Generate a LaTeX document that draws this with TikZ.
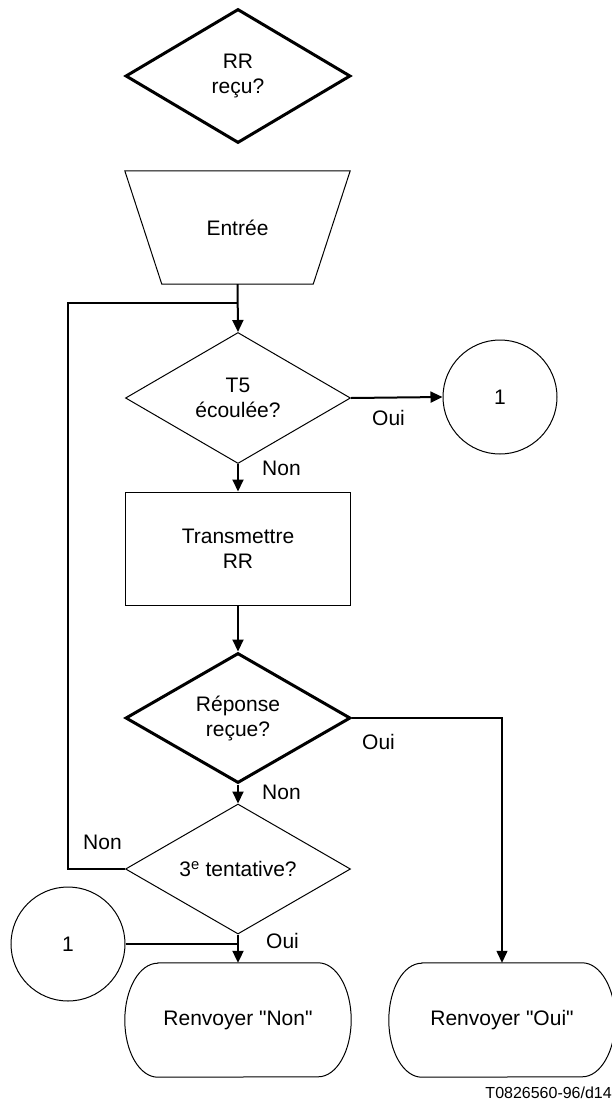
\documentclass[tikz,border=0pt]{standalone}
\usepackage{fontspec}
\setmainfont{Liberation Sans}
\usepackage{tikz}
\usetikzlibrary{arrows.meta, positioning, shapes.geometric}

\begin{document}
\begin{tikzpicture}[
  x=1pt, y=-1pt,
  every node/.style={font=\fontsize{21}{25}\selectfont},
  decision/.style={draw, diamond, aspect=1.73, inner sep=1pt, minimum width=225pt, minimum height=131pt, align=center, line width=1pt},
  keydec/.style={decision, line width=3pt},
  process/.style={draw, rectangle, minimum width=225pt, minimum height=113pt, align=center, line width=1pt},
  manual/.style={rectangle, minimum width=225pt, minimum height=113pt},
  connector/.style={draw, circle, minimum size=114pt, inner sep=0pt, line width=1pt},
  terminal/.style={rectangle, minimum width=226pt, minimum height=114pt},
  outline/.style={line width=1pt},
  lbl/.style={inner sep=0pt, anchor=west},
  arr/.style={-{Triangle[length=12pt, width=11pt]}, line width=2pt},
  link/.style={line width=1.2pt}
]
  \useasboundingbox (0,0) rectangle (612,1108);

  \node[keydec, minimum height=134pt] (rr) at (238,76) {RR\\reçu?};
  \node[manual] (entree) at (237.5,227.5) {Entrée};
  \coordinate (merge) at (238,303);
  \node[decision] (t5) at (238,398) {T5\\écoulée?};
  \node[connector] (un1) at (500,397) {1};
  \node[process] (trans) at (238,548.5) {Transmettre\\RR};
  \node[keydec, minimum height=130pt] (rep) at (238,718) {Réponse\\reçue?};
  \node[decision, minimum height=130pt] (tent) at (238,869) {3\textsuperscript{e} tentative?};
  \node[connector] (un2) at (68,944) {1};
  \node[terminal] (rnon) at (238,1020) {Renvoyer \textquotedbl Non\textquotedbl};
  \node[terminal] (roui) at (502,1020) {Renvoyer \textquotedbl Oui\textquotedbl};
  \node[anchor=east, inner sep=0pt, font=\fontsize{16}{19}\selectfont] (ref) at (612,1093) {T0826560-96/d14};

  \draw[outline] (entree.north west) -- (entree.north east) -- ([xshift=-37pt]entree.south east) -- ([xshift=37pt]entree.south west) -- cycle;
  \foreach \t in {rnon, roui}
    \draw[outline] ([xshift=33pt]\t.north west) -- ([xshift=-33pt]\t.north east)
      arc[start angle=90, end angle=-90, x radius=33pt, y radius=57pt]
      -- ([xshift=33pt]\t.south west)
      arc[start angle=270, end angle=90, x radius=33pt, y radius=57pt] -- cycle;

  \node[lbl] (t5oui) at (372,418) {Oui};
  \node[lbl] (t5non) at (262,468) {Non};
  \node[lbl] (repoui) at (362,742) {Oui};
  \node[lbl] (repnon) at (262,792) {Non};
  \node[lbl] (tentnon) at (83,842) {Non};
  \node[lbl] (tentoui) at (266,941) {Oui};

  \draw[arr] (entree.south) -- (t5.north);
  \draw[link] (tent.west) -- (tent.west -| un2.center) |- (merge);
  \draw[arr] (t5.east) -- (un1.west);
  \draw[arr] (t5.south) -- (trans.north);
  \draw[arr] (trans.south) -- (rep.north);
  \draw[arr] (rep.south) -- (tent.north);
  \draw[arr, line width=1.2pt] (rep.east) -| (roui.north);
  \draw[arr] (tent.south) -- (rnon.north);
  \draw[line width=1.7pt] (un2.east) -- (un2.east -| tent.south);
\end{tikzpicture}
\end{document}
